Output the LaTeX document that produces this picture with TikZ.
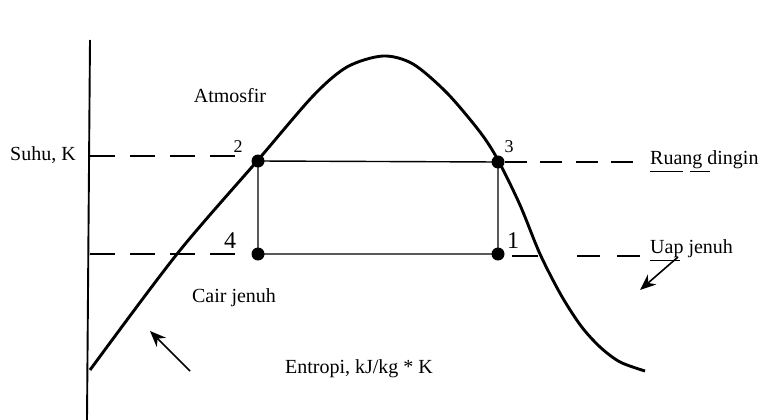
\documentclass[tikz,border=0pt]{standalone}
\usepackage{fontspec}
\setmainfont{Liberation Serif}
\usetikzlibrary{arrows.meta}
\begin{document}
\begin{tikzpicture}[x=1pt,y=-1pt,
  lbl/.style={inner sep=0pt,font=\fontsize{20}{22}\selectfont},
  num/.style={inner sep=0pt,font=\fontsize{18}{20}\selectfont},
  bignum/.style={inner sep=0pt,font=\fontsize{24}{26}\selectfont},
  dot/.style={circle,fill=black,minimum size=13pt,inner sep=0pt},
  dashline/.style={line width=1.5pt,dash pattern=on 25pt off 15pt},
  cycle/.style={line width=1.4pt},
  curve/.style={line width=2.9pt},
  pointer/.style={line width=1.6pt,-{Stealth[length=16pt,width=13pt]}}]
\useasboundingbox (0,0) rectangle (761,420);
% axis
\coordinate (axtop) at (90,40);
\coordinate (axbot) at (87,420);
\draw[line width=1.9pt] (axtop) -- (axbot);
% state points
\node[dot] (p2) at (258,161) {};
\node[dot] (p3) at (498,162) {};
\node[dot] (p4) at (258,254) {};
\node[dot] (p1) at (498,254) {};
\draw[cycle] (p2.center) -- (p3.center) -- (p1.center) -- (p4.center) -- cycle;
% dashed levels
\coordinate (tl) at (90,156);
\coordinate (tle) at (237,156);
\coordinate (bl) at (90,254);
\coordinate (ble) at (237,254);
\draw[dashline] (tl) -- (tle);
\draw[dashline] (bl) -- (ble);
\coordinate (tr1) at (505,162);
\coordinate (tr2) at (640,162);
\draw[line width=1.5pt,dash pattern=on 22pt off 13.3pt] (tr1) -- (tr2);
\coordinate (br1) at (512,256);
\coordinate (br2) at (538,256);
\coordinate (br3) at (577,256);
\coordinate (br4) at (640,256);
\draw[line width=1.5pt] (br1) -- (br2);
\draw[line width=1.5pt,dash pattern=on 23pt off 17pt] (br3) -- (br4);
% saturation dome
\draw[curve] plot[smooth,tension=0.5] coordinates {(90,370) (177,254) (258,160) (313,96) (347,67) (383,56) (413,64) (447,93) (480,132) (498,160) (520,205) (540,254) (561,295) (581,326) (600,347) (620,362) (645,371)};
% labels
\node[lbl] (suhu) at (43,155) {Suhu, K};
\node[lbl] (atm) at (230,96) {Atmosfir};
\node[lbl] (cair) at (234,298) {Cair jenuh};
\node[lbl] (ent) at (359,369) {Entropi, kJ/kg * K};
\node[lbl,anchor=west] (ruang) at (650,160) {Ruang dingin};
\node[lbl,anchor=west] (uap) at (650,249) {Uap jenuh};
\draw[line width=1.3pt] ([yshift=-2pt]ruang.south west) -- ++(33,0);
\draw[line width=1.3pt] ([yshift=-2pt,xshift=40pt]ruang.south west) -- ++(20,0);
\draw[line width=1.3pt] ([yshift=-2pt]uap.south west) -- ++(30,0);
\node[num] (n2) at (238,147) {2};
\node[num] (n3) at (509,147) {3};
\node[bignum] (n4) at (230,241) {4};
\node[bignum] (n1) at (513,241) {1};
% arrows
\coordinate (a1s) at (190,371);
\coordinate (a1e) at (150,331);
\draw[pointer] (a1s) -- (a1e);
\coordinate (a2s) at (678,257);
\coordinate (a2e) at (640,290);
\draw[pointer] (a2s) -- (a2e);
\end{tikzpicture}
\end{document}
